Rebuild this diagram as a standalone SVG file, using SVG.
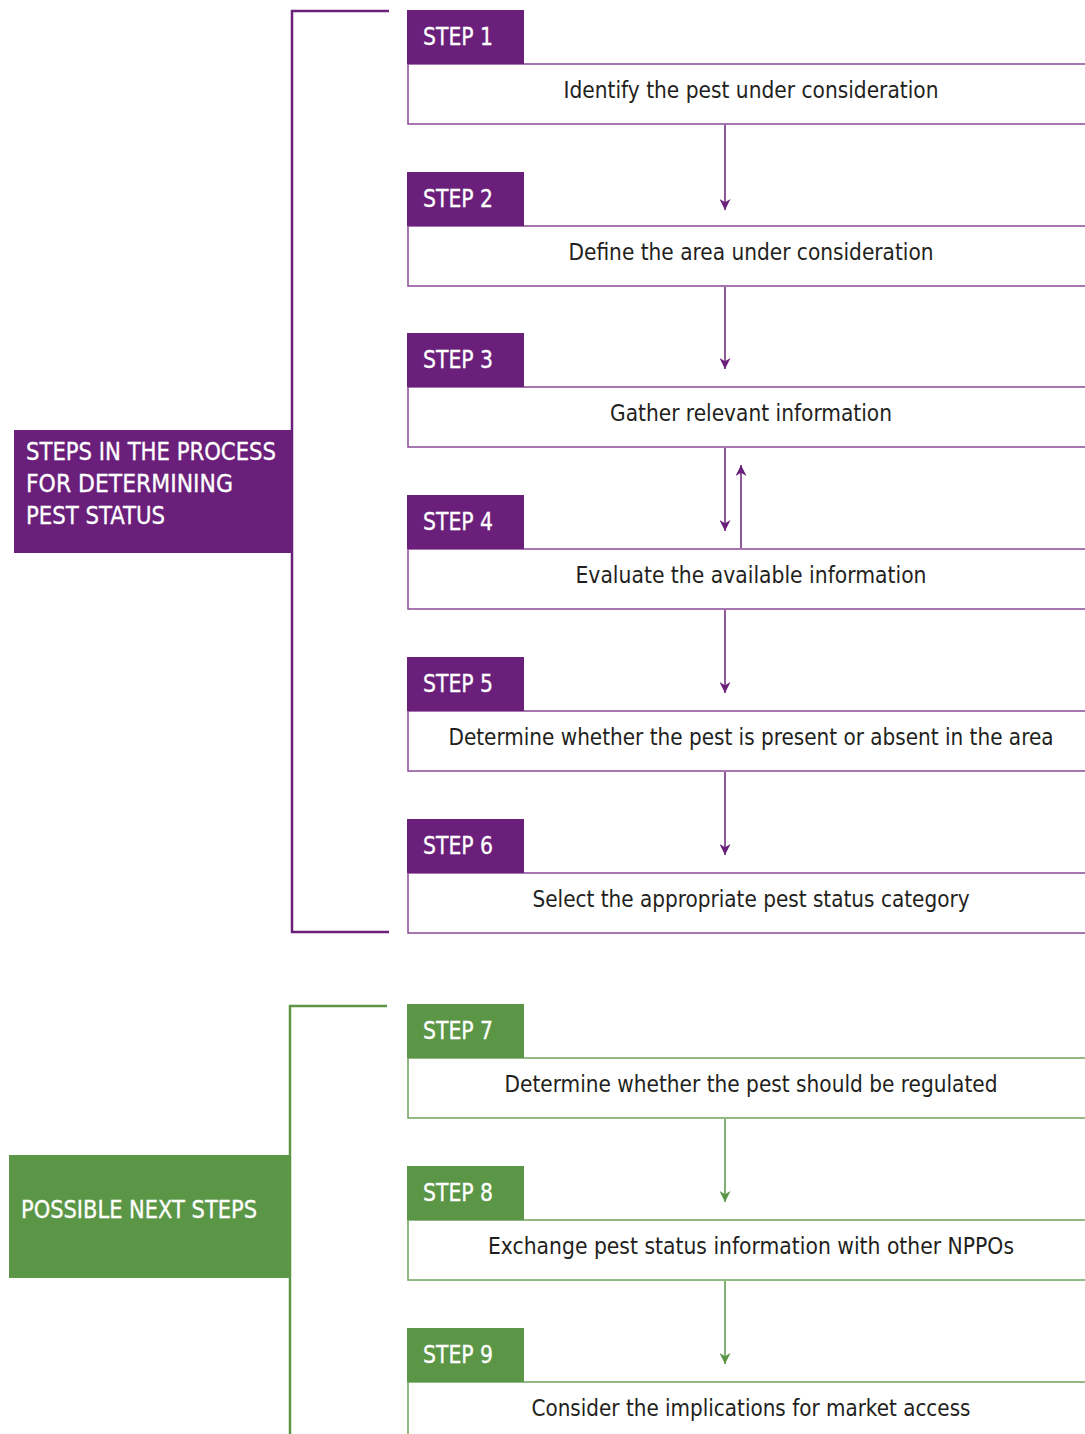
<svg xmlns="http://www.w3.org/2000/svg" width="1085" height="1434" viewBox="0 0 1085 1434">
<defs>
<style>
.bg{fill:#ffffff}
.pt{fill:#6a207a}
.gt{fill:#5a9646}
.pbox{fill:#ffffff;stroke:#8a4a98;stroke-width:1.5}
.gbox{fill:#ffffff;stroke:#6fa35c;stroke-width:1.5}
.pline{fill:none;stroke:#6a207a;stroke-width:2.5}
.gline{fill:none;stroke:#5a9646;stroke-width:2.5}
.parr{stroke:#6a207a;stroke-width:1.5;fill:none}
.garr{stroke:#5a9646;stroke-width:1.5;fill:none}
.lab{font-family:"Liberation Sans Narrow","DejaVu Sans Condensed","Liberation Sans",sans-serif;font-size:24px;fill:#ffffff;stroke:#ffffff;stroke-width:0.3}
.txt{font-family:"Liberation Sans Narrow","DejaVu Sans Condensed","Liberation Sans",sans-serif;font-size:23px;fill:#231f20;text-anchor:middle}
</style>
<marker id="ap" viewBox="0 0 10 10" refX="10" refY="5" markerWidth="12" markerHeight="11" markerUnits="userSpaceOnUse" orient="auto"><path d="M0,0 L10,5 L0,10 L3,5 z" fill="#6a207a"/></marker>
<marker id="ag" viewBox="0 0 10 10" refX="10" refY="5" markerWidth="12" markerHeight="11" markerUnits="userSpaceOnUse" orient="auto"><path d="M0,0 L10,5 L0,10 L3,5 z" fill="#5a9646"/></marker>
</defs>
<rect class="bg" x="0" y="0" width="1085" height="1434"/>

<g id="brackets">
<path class="pline" d="M389,11 H292 V932 H389"/>
<path class="gline" d="M387,1006 H290 V1434"/>
</g>

<g id="label-purple">
<rect class="pt" x="14" y="430" width="278" height="123"/>
<text class="lab" x="26" y="460" textLength="250" lengthAdjust="spacingAndGlyphs">STEPS IN THE PROCESS</text>
<text class="lab" x="26" y="492" textLength="207" lengthAdjust="spacingAndGlyphs">FOR DETERMINING</text>
<text class="lab" x="26" y="524" textLength="139" lengthAdjust="spacingAndGlyphs">PEST STATUS</text>
</g>

<g id="label-green">
<rect class="gt" x="9" y="1155" width="281" height="123"/>
<text class="lab" x="21" y="1218" textLength="236" lengthAdjust="spacingAndGlyphs">POSSIBLE NEXT STEPS</text>
</g>

<g id="connectors">
<line class="parr" x1="725" y1="125" x2="725" y2="210" marker-end="url(#ap)"/>
<line class="parr" x1="725" y1="287" x2="725" y2="369" marker-end="url(#ap)"/>
<line class="parr" x1="725" y1="448" x2="725" y2="531" marker-end="url(#ap)"/>
<line class="parr" x1="741" y1="548" x2="741" y2="465" marker-end="url(#ap)"/>
<line class="parr" x1="725" y1="610" x2="725" y2="693" marker-end="url(#ap)"/>
<line class="parr" x1="725" y1="772" x2="725" y2="855" marker-end="url(#ap)"/>
<line class="garr" x1="725" y1="1119" x2="725" y2="1202" marker-end="url(#ag)"/>
<line class="garr" x1="725" y1="1281" x2="725" y2="1364" marker-end="url(#ag)"/>
</g>

<g id="step1">
<rect class="pbox" x="408" y="64" width="690" height="60"/>
<rect class="pt" x="407" y="10" width="117" height="54"/>
<text class="lab" x="423" y="45" textLength="70" lengthAdjust="spacingAndGlyphs">STEP 1</text>
<text class="txt" x="751" y="98" textLength="375" lengthAdjust="spacingAndGlyphs">Identify the pest under consideration</text>
</g>
<g id="step2">
<rect class="pbox" x="408" y="226" width="690" height="60"/>
<rect class="pt" x="407" y="172" width="117" height="54"/>
<text class="lab" x="423" y="207" textLength="70" lengthAdjust="spacingAndGlyphs">STEP 2</text>
<text class="txt" x="751" y="260" textLength="365" lengthAdjust="spacingAndGlyphs">Define the area under consideration</text>
</g>
<g id="step3">
<rect class="pbox" x="408" y="387" width="690" height="60"/>
<rect class="pt" x="407" y="333" width="117" height="54"/>
<text class="lab" x="423" y="368" textLength="70" lengthAdjust="spacingAndGlyphs">STEP 3</text>
<text class="txt" x="751" y="421" textLength="282" lengthAdjust="spacingAndGlyphs">Gather relevant information</text>
</g>
<g id="step4">
<rect class="pbox" x="408" y="549" width="690" height="60"/>
<rect class="pt" x="407" y="495" width="117" height="54"/>
<text class="lab" x="423" y="530" textLength="70" lengthAdjust="spacingAndGlyphs">STEP 4</text>
<text class="txt" x="751" y="583" textLength="351" lengthAdjust="spacingAndGlyphs">Evaluate the available information</text>
</g>
<g id="step5">
<rect class="pbox" x="408" y="711" width="690" height="60"/>
<rect class="pt" x="407" y="657" width="117" height="54"/>
<text class="lab" x="423" y="692" textLength="70" lengthAdjust="spacingAndGlyphs">STEP 5</text>
<text class="txt" x="751" y="745" textLength="605" lengthAdjust="spacingAndGlyphs">Determine whether the pest is present or absent in the area</text>
</g>
<g id="step6">
<rect class="pbox" x="408" y="873" width="690" height="60"/>
<rect class="pt" x="407" y="819" width="117" height="54"/>
<text class="lab" x="423" y="854" textLength="70" lengthAdjust="spacingAndGlyphs">STEP 6</text>
<text class="txt" x="751" y="907" textLength="437" lengthAdjust="spacingAndGlyphs">Select the appropriate pest status category</text>
</g>
<g id="step7">
<rect class="gbox" x="408" y="1058" width="690" height="60"/>
<rect class="gt" x="407" y="1004" width="117" height="54"/>
<text class="lab" x="423" y="1039" textLength="70" lengthAdjust="spacingAndGlyphs">STEP 7</text>
<text class="txt" x="751" y="1092" textLength="493" lengthAdjust="spacingAndGlyphs">Determine whether the pest should be regulated</text>
</g>
<g id="step8">
<rect class="gbox" x="408" y="1220" width="690" height="60"/>
<rect class="gt" x="407" y="1166" width="117" height="54"/>
<text class="lab" x="423" y="1201" textLength="70" lengthAdjust="spacingAndGlyphs">STEP 8</text>
<text class="txt" x="751" y="1254" textLength="526" lengthAdjust="spacingAndGlyphs">Exchange pest status information with other NPPOs</text>
</g>
<g id="step9">
<rect class="gbox" x="408" y="1382" width="690" height="80"/>
<rect class="gt" x="407" y="1328" width="117" height="54"/>
<text class="lab" x="423" y="1363" textLength="70" lengthAdjust="spacingAndGlyphs">STEP 9</text>
<text class="txt" x="751" y="1416" textLength="439" lengthAdjust="spacingAndGlyphs">Consider the implications for market access</text>
</g>
</svg>
